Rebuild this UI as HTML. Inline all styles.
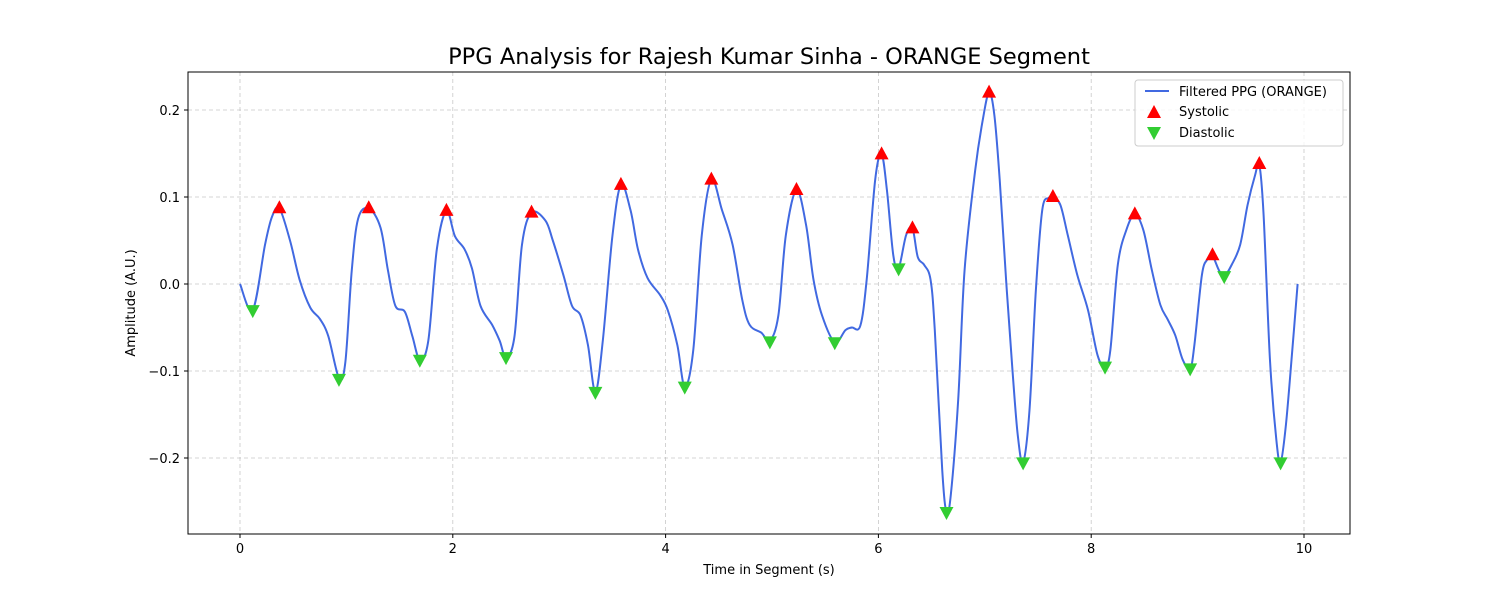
<!DOCTYPE html>
<html><head><meta charset="utf-8"><style>
body{margin:0;background:#fff;font-family:"DejaVu Sans","Liberation Sans",sans-serif}
svg text{font-family:"DejaVu Sans","Liberation Sans",sans-serif}
</style></head><body>
<svg id="chart" width="1500" height="600" xmlns="http://www.w3.org/2000/svg">
<rect width="1500" height="600" fill="#fff"/>
<text x="769" y="64" font-size="22.5" text-anchor="middle">PPG Analysis for Rajesh Kumar Sinha - ORANGE Segment</text>
<g id="grid"></g>
<g id="axes"></g>
<g id="plot"></g>
<rect x="188" y="72" width="1162" height="462" fill="none" stroke="#000" stroke-width="1"/>
<text x="769" y="574" font-size="13" text-anchor="middle">Time in Segment (s)</text>
<text x="135" y="303" font-size="13" text-anchor="middle" transform="rotate(-90 135 303)">Amplitude (A.U.)</text>
<g>
<rect x="1135" y="80" width="208" height="66" rx="3" fill="#fff" fill-opacity="0.8" stroke="#ccc"/>
<line x1="1145" y1="91" x2="1169" y2="91" stroke="#4169e1" stroke-width="2"/>
<text x="1179" y="96" font-size="13">Filtered PPG (ORANGE)</text>
<polygon points="1154,105 1161,118 1147,118" fill="red"/>
<text x="1179" y="116" font-size="13">Systolic</text>
<polygon points="1147,127 1161,127 1154,140" fill="#32cd32"/>
<text x="1179" y="137" font-size="13">Diastolic</text>
</g>
</svg>
<script>
const times=[0,0.12,0.235,0.3,0.37,0.47,0.56,0.66,0.75,0.83,0.93,0.99,1.05,1.11,1.21,1.32,1.39,1.46,1.55,1.62,1.69,1.77,1.85,1.94,2.02,2.11,2.18,2.26,2.37,2.44,2.5,2.58,2.65,2.74,2.87,2.94,3.04,3.12,3.2,3.27,3.34,3.41,3.5,3.58,3.67,3.74,3.83,3.95,4.02,4.11,4.18,4.26,4.34,4.43,4.53,4.63,4.72,4.79,4.9,4.98,5.06,5.13,5.23,5.32,5.39,5.47,5.59,5.69,5.75,5.83,5.89,5.97,6.03,6.08,6.14,6.19,6.26,6.32,6.37,6.43,6.49,6.53,6.6,6.64,6.68,6.75,6.81,6.91,6.98,7.04,7.09,7.14,7.2,7.26,7.31,7.36,7.42,7.48,7.54,7.6,7.64,7.71,7.78,7.87,7.97,8.06,8.13,8.18,8.25,8.33,8.41,8.49,8.57,8.65,8.72,8.79,8.86,8.93,8.97,9.04,9.09,9.14,9.2,9.25,9.32,9.4,9.47,9.54,9.58,9.62,9.68,9.74,9.78,9.83,9.89,9.94];
const values=[0,-0.03,0.045,0.077,0.087,0.05,0.005,-0.027,-0.04,-0.06,-0.108,-0.09,0.015,0.075,0.087,0.065,0.016,-0.025,-0.032,-0.06,-0.087,-0.065,0.04,0.084,0.055,0.04,0.018,-0.025,-0.047,-0.065,-0.084,-0.06,0.045,0.082,0.073,0.05,0.01,-0.025,-0.036,-0.07,-0.124,-0.065,0.055,0.114,0.085,0.04,0.007,-0.013,-0.03,-0.07,-0.118,-0.076,0.056,0.12,0.085,0.045,-0.018,-0.047,-0.056,-0.065,-0.036,0.056,0.108,0.068,0.005,-0.036,-0.067,-0.053,-0.05,-0.048,0.005,0.12,0.149,0.108,0.033,0.018,0.056,0.064,0.031,0.022,0.005,-0.053,-0.214,-0.262,-0.243,-0.133,0.016,0.131,0.188,0.22,0.194,0.12,0.005,-0.099,-0.174,-0.205,-0.145,-0.007,0.085,0.099,0.099,0.091,0.056,0.01,-0.03,-0.082,-0.095,-0.076,0.022,0.062,0.08,0.062,0.016,-0.024,-0.041,-0.059,-0.087,-0.097,-0.07,0.01,0.028,0.032,0.016,0.009,0.022,0.045,0.091,0.125,0.137,0.08,-0.087,-0.179,-0.205,-0.162,-0.076,0];
const sysT=[0.37,1.21,1.94,2.74,3.58,4.43,5.23,6.03,6.32,7.04,7.64,8.41,9.14,9.58];
const sysV=[0.087,0.087,0.084,0.082,0.114,0.12,0.108,0.149,0.064,0.22,0.1,0.08,0.033,0.138];
const diaT=[0.12,0.93,1.69,2.5,3.34,4.18,4.98,5.59,6.19,6.64,7.36,8.13,8.93,9.25,9.78];
const diaV=[-0.03,-0.109,-0.087,-0.084,-0.124,-0.118,-0.066,-0.067,0.018,-0.262,-0.205,-0.095,-0.097,0.009,-0.205];
const xTicks=[0,2,4,6,8,10];
const yTicks=[-0.2,-0.1,0,0.1,0.2];
const yTickLabels=["\u22120.2","\u22120.1","0.0","0.1","0.2"];

const NS="http://www.w3.org/2000/svg";
function X(t){return 240+t*106.4;}
function Y(v){return 284-v*870;}
function mk(tag,attrs,parent){const e=document.createElementNS(NS,tag);for(const k in attrs)e.setAttribute(k,attrs[k]);parent.appendChild(e);return e;}
const grid=document.getElementById('grid'),axes=document.getElementById('axes'),plot=document.getElementById('plot');
xTicks.forEach(t=>{
  const g=mk('line',{x1:X(t),x2:X(t),y1:72,y2:534,stroke:'#b0b0b0','stroke-opacity':0.7,'stroke-dasharray':'4,3','stroke-width':0.8},grid);
  
  
  mk('line',{x1:X(t),x2:X(t),y1:534,y2:538,stroke:'#000'},axes);
  const l=mk('text',{x:X(t),y:553,'font-size':13,'text-anchor':'middle'},axes);
  l.textContent=String(t);
  
  
});
yTicks.forEach((v,i)=>{
  const g=mk('line',{x1:188,x2:1350,y1:Y(v),y2:Y(v),stroke:'#b0b0b0','stroke-opacity':0.7,'stroke-dasharray':'4,3','stroke-width':0.8},grid);
  
  
  mk('line',{x1:184,x2:188,y1:Y(v),y2:Y(v),stroke:'#000'},axes);
  const l=mk('text',{x:180,y:Y(v)+5,'font-size':13,'text-anchor':'end'},axes);
  l.textContent=yTickLabels[i];
  
  
});
const pts=times.map((t,i)=>[X(t),Y(values[i])]);
let d='M'+pts[0][0]+','+pts[0][1];
for(let i=0;i<pts.length-1;i++){
  const p0=pts[Math.max(0,i-1)],p1=pts[i],p2=pts[i+1],p3=pts[Math.min(pts.length-1,i+2)];
  const c1=[p1[0]+(p2[0]-p0[0])/6,p1[1]+(p2[1]-p0[1])/6];
  const c2=[p2[0]-(p3[0]-p1[0])/6,p2[1]-(p3[1]-p1[1])/6];
  d+=` C${c1[0]},${c1[1]} ${c2[0]},${c2[1]} ${p2[0]},${p2[1]}`;
}
const line=mk('path',{d:d,fill:'none',stroke:'#4169e1','stroke-width':2},plot);


sysT.forEach((t,i)=>{
  const x=X(t),y=Y(sysV[i]);
  const m=mk('polygon',{points:`${x},${y-8} ${x+7},${y+5} ${x-7},${y+5}`,fill:'red'},plot);
  
  
});
diaT.forEach((t,i)=>{
  const x=X(t),y=Y(diaV[i]);
  const m=mk('polygon',{points:`${x-7},${y-5} ${x+7},${y-5} ${x},${y+8}`,fill:'#32cd32'},plot);
  
  
});
</script>
</body></html>
